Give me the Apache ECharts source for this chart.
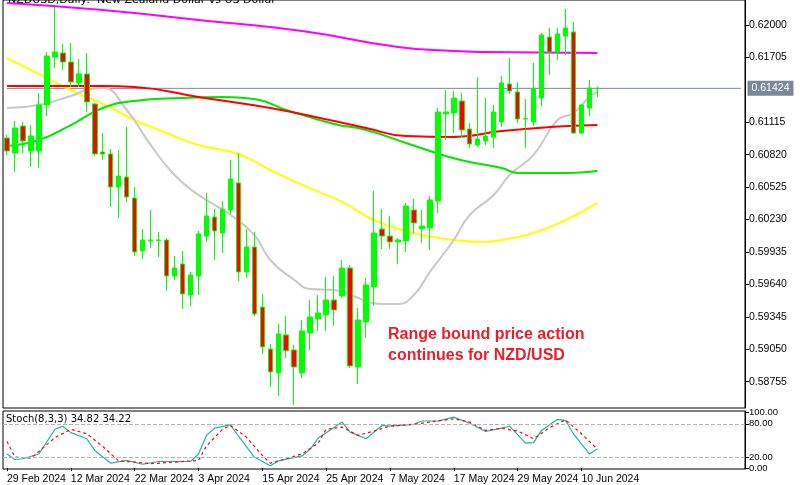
<!DOCTYPE html>
<html><head><meta charset="utf-8">
<script src="https://cdn.jsdelivr.net/npm/echarts@6/dist/echarts.min.js"></script>
<style>html,body{margin:0;padding:0;background:#fff}#c{width:800px;height:485px}</style>
</head><body><div id="c"></div>
<script>
const dates = ["29 Feb 2024","1 Mar 2024","4 Mar 2024","5 Mar 2024","6 Mar 2024","7 Mar 2024","8 Mar 2024","11 Mar 2024","12 Mar 2024","13 Mar 2024","14 Mar 2024","15 Mar 2024","18 Mar 2024","19 Mar 2024","20 Mar 2024","21 Mar 2024","22 Mar 2024","25 Mar 2024","26 Mar 2024","27 Mar 2024","28 Mar 2024","29 Mar 2024","1 Apr 2024","2 Apr 2024","3 Apr 2024","4 Apr 2024","5 Apr 2024","8 Apr 2024","9 Apr 2024","10 Apr 2024","11 Apr 2024","12 Apr 2024","15 Apr 2024","16 Apr 2024","17 Apr 2024","18 Apr 2024","19 Apr 2024","22 Apr 2024","23 Apr 2024","24 Apr 2024","25 Apr 2024","26 Apr 2024","29 Apr 2024","30 Apr 2024","1 May 2024","2 May 2024","3 May 2024","6 May 2024","7 May 2024","8 May 2024","9 May 2024","10 May 2024","13 May 2024","14 May 2024","15 May 2024","16 May 2024","17 May 2024","20 May 2024","21 May 2024","22 May 2024","23 May 2024","24 May 2024","27 May 2024","28 May 2024","29 May 2024","30 May 2024","31 May 2024","3 Jun 2024","4 Jun 2024","5 Jun 2024","6 Jun 2024","7 Jun 2024","10 Jun 2024","11 Jun 2024","12 Jun 2024"];
const emptySlots = 18;
// [open, close, low, high]
const ohlc = [
[0.60972,0.60854,0.60818,0.60999],[0.60836,0.61063,0.60663,0.61127],[0.61081,0.60945,0.60836,0.61118],[0.60854,0.60990,0.60708,0.61090],
[0.60854,0.61273,0.60699,0.61382],[0.61273,0.61718,0.61172,0.61755],[0.61709,0.61755,0.61609,0.62164],[0.61746,0.61664,0.61591,0.61828],
[0.61664,0.61482,0.61436,0.61837],[0.61473,0.61555,0.61436,0.61691],[0.61555,0.61300,0.61209,0.61746],[0.61282,0.60827,0.60808,0.61291],
[0.60845,0.60827,0.60772,0.61018],[0.60827,0.60526,0.60344,0.60872],[0.60526,0.60626,0.60244,0.60863],[0.60617,0.60435,0.60390,0.61072],
[0.60426,0.59935,0.59898,0.60526],[0.59944,0.60044,0.59871,0.60144],[0.60035,0.60044,0.59971,0.60317],[0.60044,0.60040,0.59889,0.60117],
[0.60044,0.59716,0.59580,0.60062],[0.59716,0.59789,0.59680,0.59898],[0.59826,0.59553,0.59416,0.59944],[0.59543,0.59726,0.59443,0.59753],
[0.59716,0.60099,0.59543,0.60126],[0.60080,0.60262,0.60026,0.60472],[0.60253,0.60126,0.59862,0.60326],[0.60108,0.60326,0.59926,0.60399],
[0.60317,0.60599,0.60281,0.60772],[0.60563,0.59753,0.59671,0.60836],[0.59753,0.59980,0.59698,0.60144],[0.59980,0.59371,0.59352,0.60117],
[0.59434,0.59071,0.59007,0.59553],[0.59052,0.58843,0.58706,0.59098],[0.58834,0.59189,0.58624,0.59280],[0.59180,0.59035,0.58970,0.59352],
[0.59043,0.58888,0.58543,0.59089],[0.58834,0.59216,0.58788,0.59316],[0.59198,0.59343,0.59043,0.59498],[0.59325,0.59380,0.59216,0.59543],
[0.59362,0.59498,0.59216,0.59707],[0.59498,0.59407,0.59262,0.59716],[0.59534,0.59789,0.59516,0.59862],[0.59789,0.58898,0.58879,0.59817],
[0.58888,0.59316,0.58734,0.59425],[0.59298,0.59635,0.59152,0.59698],[0.59616,0.60108,0.59443,0.60490],[0.60144,0.60080,0.59962,0.60326],
[0.60080,0.60026,0.59962,0.60262],[0.60026,0.60044,0.59826,0.60062],[0.60035,0.60353,0.59935,0.60381],[0.60317,0.60199,0.60108,0.60417],
[0.60144,0.60171,0.60017,0.60317],[0.60153,0.60408,0.59953,0.60444],[0.60399,0.61209,0.60290,0.61245],[0.61191,0.61209,0.60954,0.61409],
[0.61200,0.61336,0.61018,0.61400],[0.61309,0.61045,0.60972,0.61382],[0.61054,0.60918,0.60881,0.61109],[0.60909,0.60963,0.60890,0.61527],
[0.60945,0.60990,0.60909,0.61336],[0.60981,0.61209,0.60881,0.61273],[0.61118,0.61473,0.61072,0.61536],[0.61464,0.61400,0.61373,0.61700],
[0.61391,0.61145,0.61109,0.61482],[0.61145,0.61150,0.60881,0.61327],[0.61118,0.61418,0.61081,0.61655],[0.61336,0.61910,0.61263,0.61928],
[0.61891,0.61755,0.61546,0.61973],[0.61755,0.61919,0.61682,0.61973],[0.61900,0.61973,0.61728,0.62146],[0.61937,0.61018,0.61009,0.62028],
[0.61018,0.61273,0.61009,0.61282],[0.61245,0.61427,0.61172,0.61500],[0.61420,0.61424,0.61345,0.61436]];
const maMagenta = [[0,0.62201],[12,0.62137],[24,0.62046],[37,0.61946],[49,0.61800],[56,0.61764],[60,0.61755],[74,0.61746]];
const maRed = [[0,0.61445],[12,0.61445],[16,0.61436],[24,0.61345],[33,0.61245],[41,0.61127],[45,0.61063],[50,0.60990],[56,0.60981],[62,0.61036],[68,0.61072],[74,0.61090]];
const maGreen = [[0,0.60899],[4,0.60954],[8,0.61090],[12,0.61245],[16,0.61309],[22,0.61336],[27,0.61345],[31,0.61327],[35,0.61227],[41,0.61100],[45,0.61045],[50,0.60927],[55,0.60808],[58,0.60754],[62,0.60699],[64,0.60654],[70,0.60654],[74,0.60672]];
const maYellow = [[0,0.61700],[4,0.61555],[8,0.61409],[12,0.61282],[16,0.61136],[20,0.61018],[24,0.60909],[29,0.60827],[33,0.60681],[37,0.60545],[42,0.60390],[46,0.60226],[50,0.60126],[52,0.60090],[56,0.60044],[60,0.60026],[62,0.60044],[66,0.60108],[70,0.60226],[74,0.60381]];
const maGray = [[0,0.61245],[4,0.61273],[8,0.61354],[10,0.61409],[12,0.61427],[15,0.61227],[18,0.60909],[21,0.60636],[24,0.60454],[28,0.60272],[31,0.60090],[33,0.59862],[36,0.59680],[38,0.59598],[41,0.59589],[43,0.59543],[47,0.59462],[49,0.59462],[51,0.59543],[53,0.59753],[56,0.60044],[58,0.60272],[61,0.60454],[63,0.60636],[66,0.60818],[69,0.61136],[71,0.61200],[73,0.61345],[74,0.61390]];
const stochK = [[0,25.6],[1,15.6],[2,17],[4,25.6],[6,70],[7,75.6],[8,64],[10,53],[11,32],[13,9],[15,14],[17,7],[19,12],[23,12],[24,25.6],[25,59],[26,72],[28,78],[29,58],[31,20],[33,4.4],[34,13],[37,22],[38,34],[39,54],[42,83],[43,65],[45,53],[47,77],[48,75.6],[51,79],[52,85],[54,85],[56,92],[58,81],[60,66],[62,72],[63,75.6],[65,45],[66,46],[67,68],[69,88],[70,86],[71,62],[73,25.6],[74,34.8]];
const stochD = [[0,48],[1,20],[3,18],[4,30],[6,55],[8,70],[10,62],[12,39],[14,13],[16,11],[18,8],[21,11],[24,14],[25,40],[27,70],[28,77],[30,56],[32,23],[33,9],[35,17],[37,26],[39,45],[40,70],[42,74],[44,59],[46,67],[48,75.6],[51,79],[53,83],[56,89],[58,83],[60,68],[62,72],[64,67],[66,53],[68,73],[70,87],[72,62],[74,34.2]];
const priceTicks = [0.58755,0.59050,0.59345,0.59640,0.59935,0.60230,0.60525,0.60820,0.61115,0.61705,0.62000];
const stochTicks = [0,20,80,100];
const lastPrice = 0.61424;

const cats = dates.concat(new Array(emptySlots).fill(''));
const chart = echarts.init(document.getElementById('c'));
const lbl = {fontFamily:'Liberation Sans', fontSize:10.5, color:'#000'};
const showTick = (i)=>i%8===0&&i<dates.length;
chart.setOption({
  animation:false,
  grid:[{left:3,right:55,top:-2,height:410,show:true,borderColor:'#000',borderWidth:1,backgroundColor:'#fff'},
        {left:3,right:55,top:411,height:59,show:true,borderColor:'#000',borderWidth:1}],
  xAxis:[{type:'category',data:cats,gridIndex:0,axisLine:{show:false},axisTick:{show:false},axisLabel:{show:false},splitLine:{show:false}},
         {type:'category',data:cats,gridIndex:1,boundaryGap:true,axisLine:{show:false},
          axisTick:{show:true,interval:showTick,length:3,lineStyle:{color:'#000'},alignWithLabel:true},
          axisLabel:{...lbl,interval:showTick,align:'left',margin:5}}],
  yAxis:[{type:'value',gridIndex:0,position:'right',min:0.58515,max:0.62228,
          axisLine:{show:true,lineStyle:{color:'#000'}},axisTick:{show:true,length:4,customValues:priceTicks,lineStyle:{color:'#000'}},
          axisLabel:{...lbl,customValues:priceTicks,formatter:v=>v.toFixed(5),margin:4},splitLine:{show:false}},
         {type:'value',gridIndex:1,position:'right',min:-1.5,max:103,
          axisLine:{show:true,lineStyle:{color:'#000'}},axisTick:{show:true,length:4,customValues:stochTicks,lineStyle:{color:'#000'}},
          axisLabel:{...lbl,fontSize:9.5,customValues:stochTicks,hideOverlap:false,showMinLabel:true,showMaxLabel:true,
            formatter:v=>v.toFixed(2),margin:4,
            verticalAlign:'middle'},splitLine:{show:false}}],
  graphic:[
    {type:'text',left:8,top:-5,style:{text:'NZDUSD,Daily:  New Zealand Dollar vs US Dollar',font:'11px "DejaVu Sans"',fill:'#000'}},
    {type:'text',left:6,top:414,style:{text:'Stoch(8,3,3) 34.82 34.22',font:'10px "DejaVu Sans"',fill:'#000'}},
    {type:'text',left:388,top:324,style:{text:'Range bound price action\ncontinues for NZD/USD',font:'bold 16px "Liberation Sans"',fill:'#e8202a',lineHeight:21}}
  ],
  series:[
    {type:'line',data:[[0,lastPrice],[cats.length-1,lastPrice]],symbol:'none',silent:true,z:1,
     lineStyle:{color:'#78889a',width:1},
     markPoint:{symbol:'rect',symbolSize:[1,1],itemStyle:{color:'transparent'},
      data:[{coord:[cats.length-1,lastPrice]}],
      label:{show:true,position:'right',distance:6,formatter:'0.61424',backgroundColor:'#78889a',color:'#fff',fontFamily:'Liberation Sans',fontSize:10.5,padding:[2,4]}}},
    {type:'line',data:maMagenta,symbol:'none',smooth:true,lineStyle:{color:'#ff00ff',width:2}},
    {type:'line',data:maYellow,symbol:'none',smooth:true,lineStyle:{color:'#ffff00',width:2}},
    {type:'line',data:maGray,symbol:'none',smooth:true,lineStyle:{color:'#c8c8c8',width:2}},
    {type:'line',data:maGreen,symbol:'none',smooth:true,lineStyle:{color:'#00e600',width:2}},
    {type:'line',data:maRed,symbol:'none',smooth:true,lineStyle:{color:'#ff0000',width:2}},
    {type:'candlestick',data:ohlc,barWidth:5,z:5,
     itemStyle:{color:'#00ff00',color0:'#ff0000',borderColor:'#00ff00',borderColor0:'#00ff00',borderWidth:1}},
    {type:'line',xAxisIndex:1,yAxisIndex:1,data:stochK,symbol:'none',lineStyle:{color:'#20b2aa',width:1.2},
     markLine:{silent:true,symbol:'none',label:{show:false},data:[{yAxis:20},{yAxis:80}],lineStyle:{color:'#b4b4b4',type:'dashed',width:1}}},
    {type:'line',xAxisIndex:1,yAxisIndex:1,data:stochD,symbol:'none',lineStyle:{color:'#ff0000',width:1.2,type:[3,3]}}
  ]
});
</script></body></html>
